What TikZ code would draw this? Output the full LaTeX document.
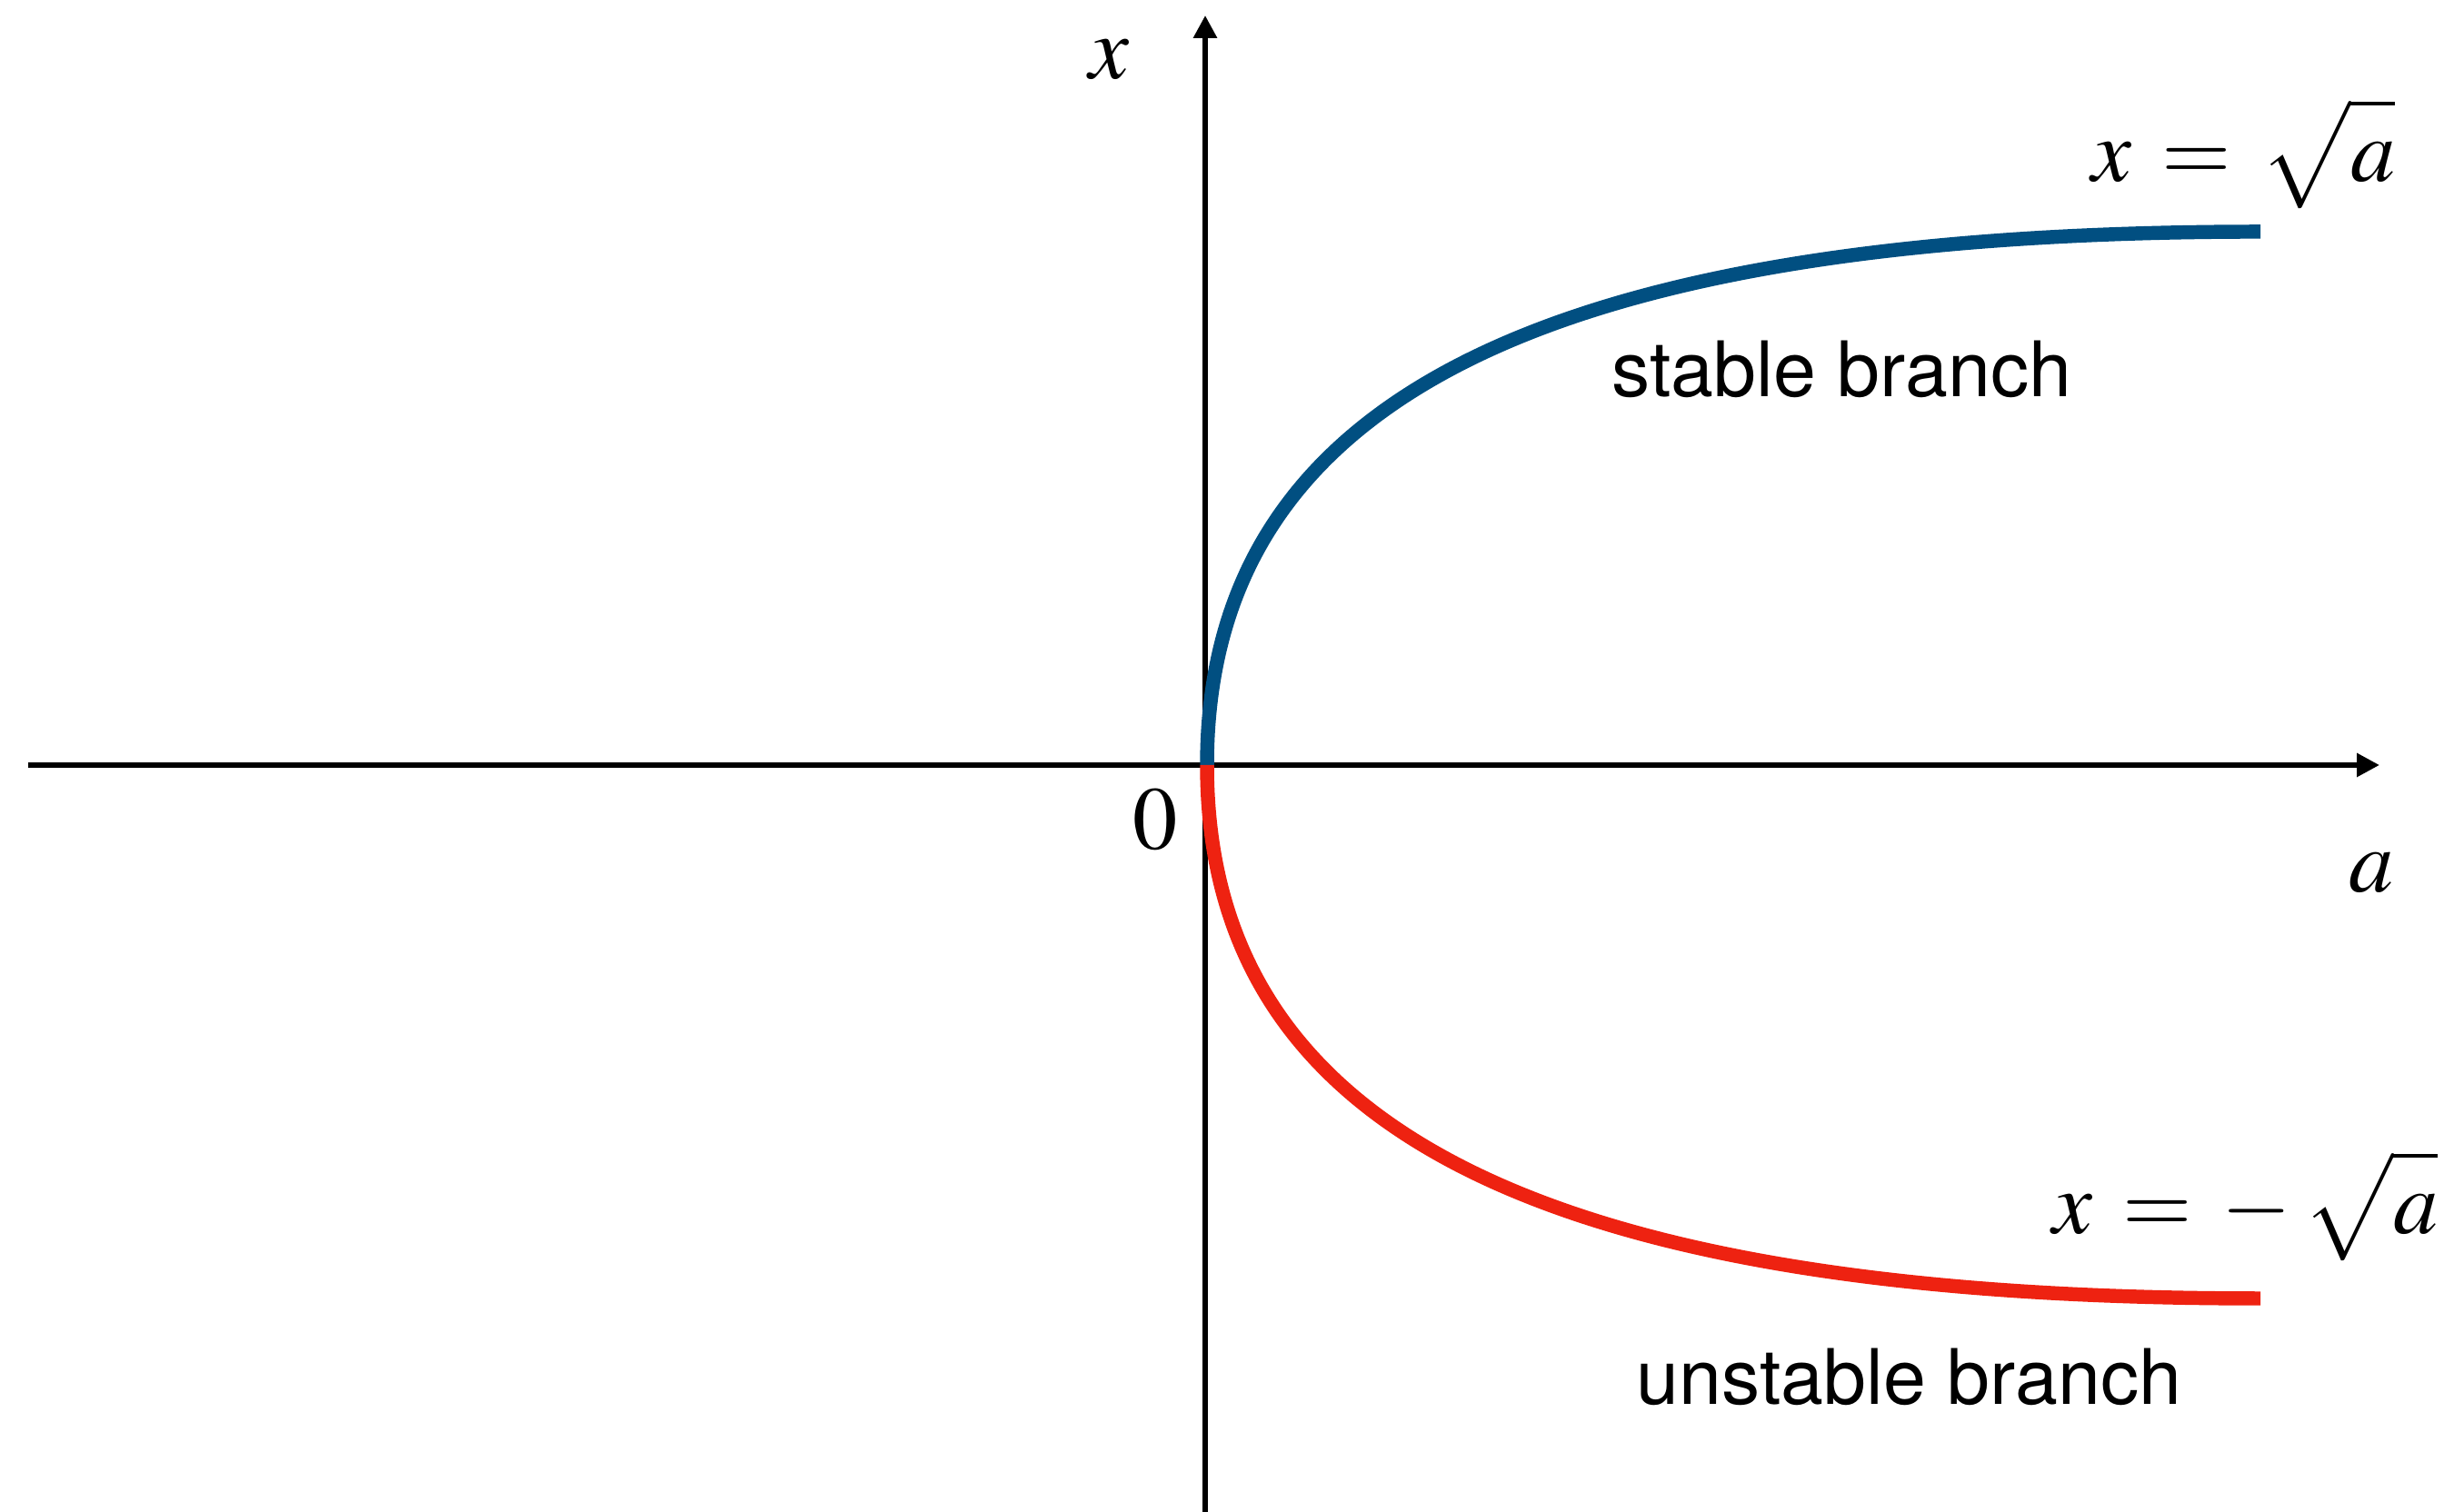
\documentclass[tikz,border=0pt]{standalone}
\usepackage{mathptmx}
\usepackage{fontspec}
\usepackage{xcolor}
\usepackage{tikz}
\usetikzlibrary{positioning,arrows.meta}
\newfontfamily\lblfont{TeX Gyre Heros}
\definecolor{StableBlue}{RGB}{1,79,129}
\definecolor{UnstableRed}{RGB}{238,34,17}

\begin{document}
\begin{tikzpicture}[font=\fontsize{28}{32}\selectfont,inner sep=0pt]
\useasboundingbox (0,0) rectangle (27,16.64);
\coordinate (O) at (13.28,8.22);
\coordinate (aL) at (0.31,8.22);
\coordinate (aR) at (26.18,8.22);
\coordinate (xB) at (13.26,0);
\coordinate (xT) at (13.26,16.47);
\coordinate (up) at (24.87,14.09);
\coordinate (dn) at (24.87,2.35);
% axes
\draw[line width=1.7pt,-{Triangle[length=0.25cm,width=0.25cm]}] (aL) -- (aR);
\draw[line width=1.7pt,-{Triangle[length=0.25cm,width=0.25cm]}] (xB) -- (xT);
% branches
\draw[StableBlue,line width=4.4pt] (O) .. controls +(0,3.8) and +(-8.29,0) .. (up);
\draw[UnstableRed,line width=4.4pt] (O) .. controls +(0,-3.8) and +(-8.29,0) .. (dn);
\node[anchor=base] (xlbl) at (12.20,15.77) {$x$};
\node[anchor=base] (zero) at (12.71,7.29) {$0$};
\node[anchor=base] (albl) at (26.09,6.82) {$a$};
\node[anchor=base east] (upeq) at (26.36,14.64) {$x\,=\,\sqrt{\mathstrut a}$};
\node[anchor=base east] (dneq) at (26.83,3.06) {$x\,=\,-\:\sqrt{\mathstrut a}$};
\node[anchor=base west,font=\lblfont\fontsize{24}{28}\selectfont] (stab) at (17.73,12.27) {stable branch};
\node[anchor=base west,font=\lblfont\fontsize{24}{28}\selectfont] (unstab) at (18.00,1.18) {unstable branch};
\end{tikzpicture}
\end{document}
